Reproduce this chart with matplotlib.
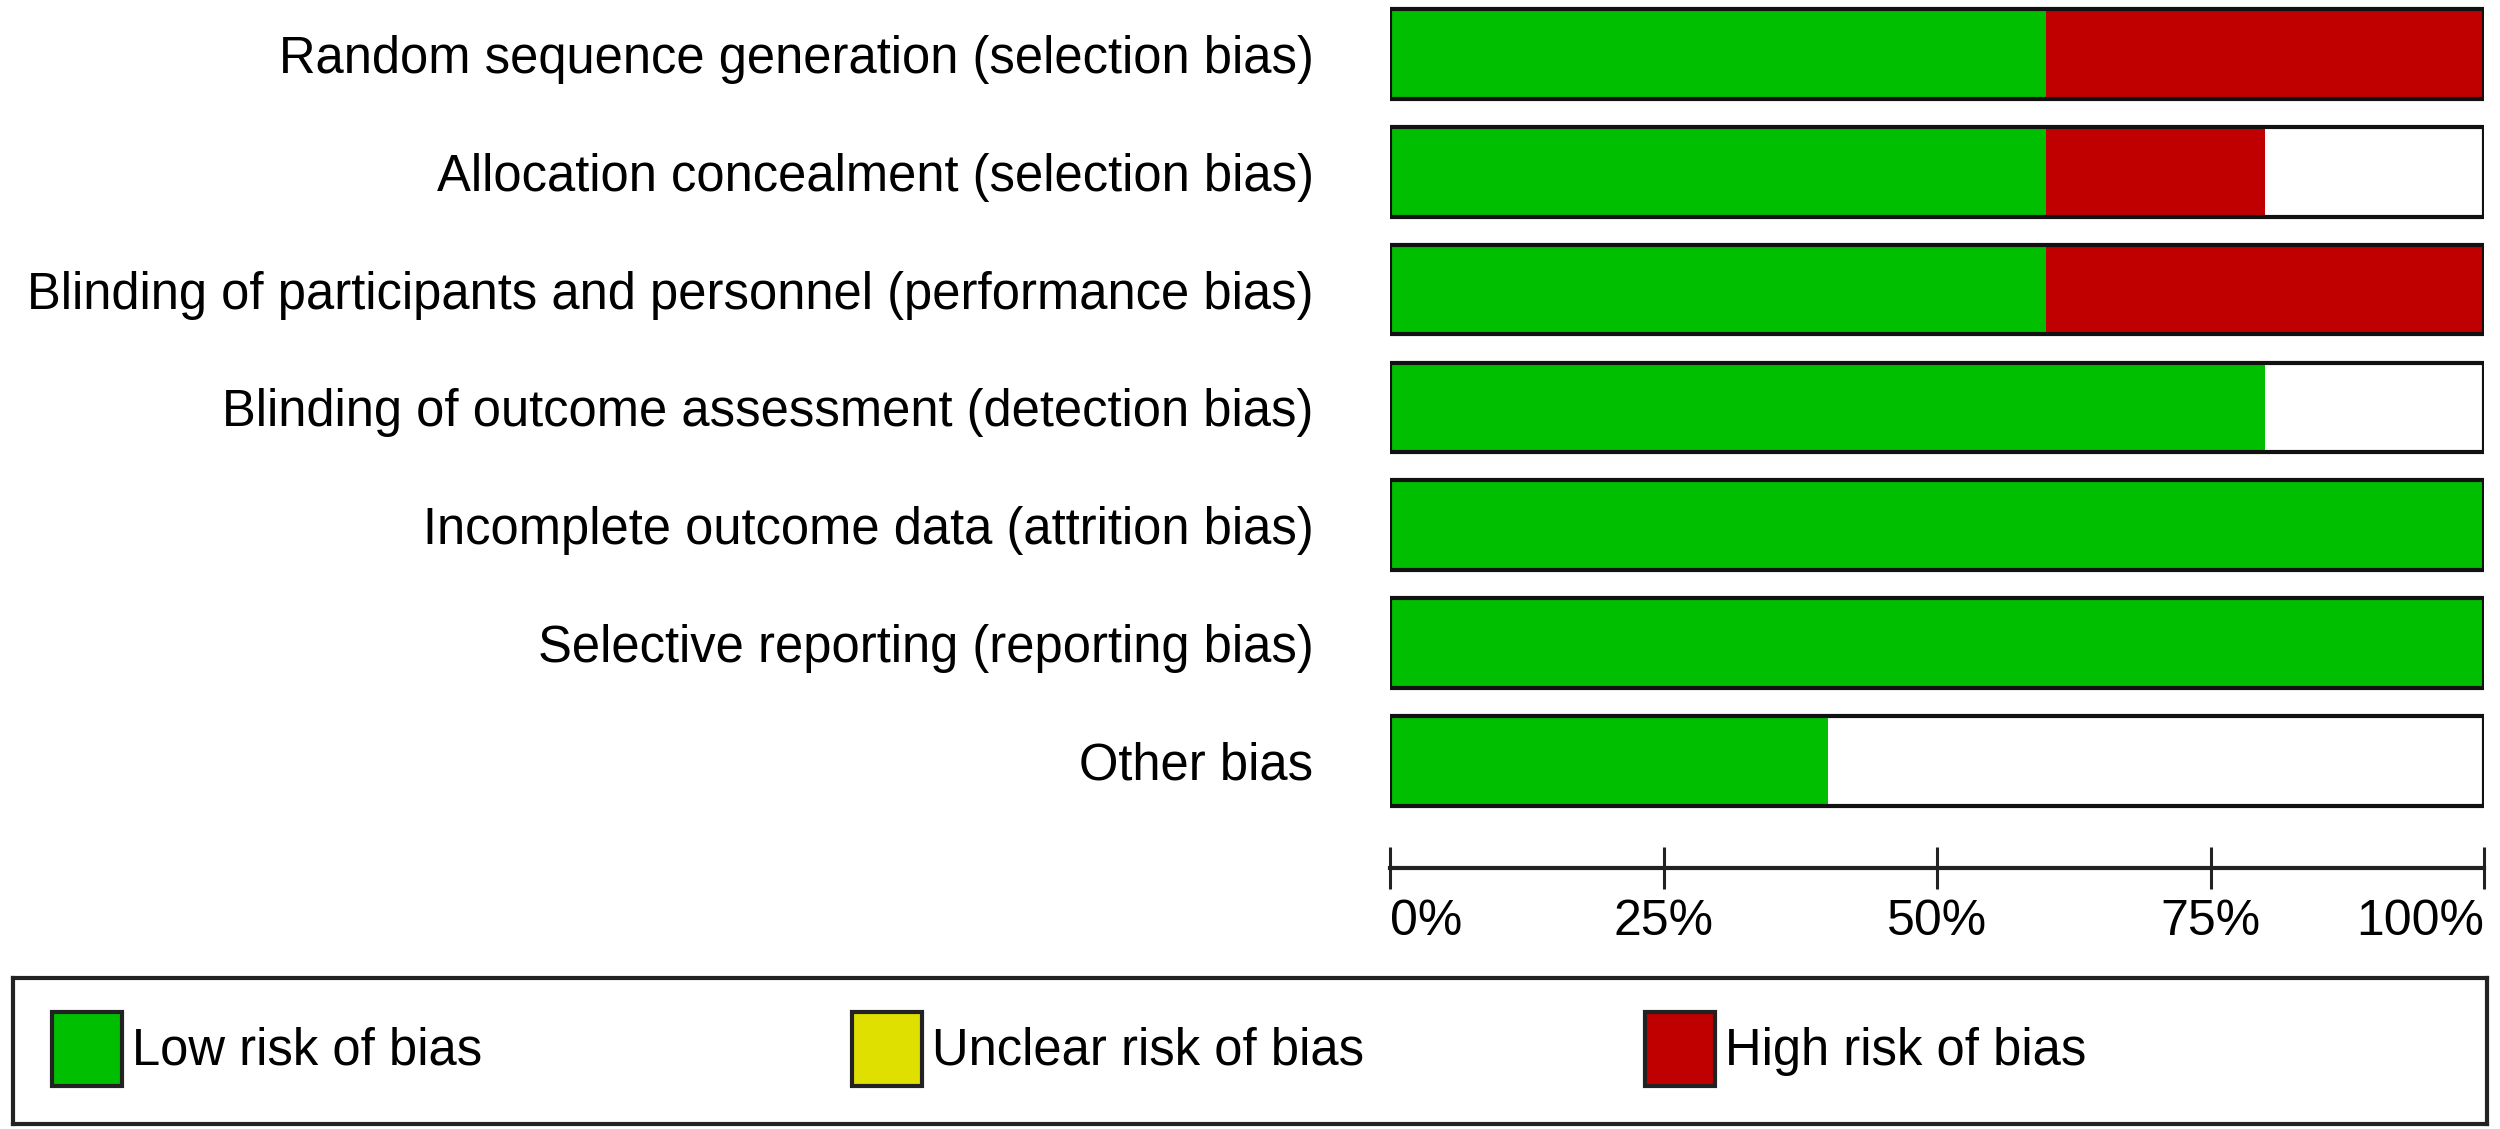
import matplotlib.pyplot as plt
from matplotlib.patches import Rectangle

# risk of bias domains, top to bottom
domains = [
    "Random sequence generation (selection bias)",
    "Allocation concealment (selection bias)",
    "Blinding of participants and personnel (performance bias)",
    "Blinding of outcome assessment (detection bias)",
    "Incomplete outcome data (attrition bias)",
    "Selective reporting (reporting bias)",
    "Other bias",
]
low_risk = [60, 60, 60, 80, 100, 100, 40]
unclear_risk = [0, 0, 0, 0, 0, 0, 0]
high_risk = [40, 20, 40, 0, 0, 0, 0]

tick_vals = [0, 25, 50, 75, 100]
tick_labels = ["0%", "25%", "50%", "75%", "100%"]

legend_names = ["Low risk of bias", "Unclear risk of bias", "High risk of bias"]

GREEN = "#00bf00"
YELLOW = "#e0e000"
RED = "#c00000"

plt.rcParams['font.family'] = ['Liberation Sans', 'DejaVu Sans']

W, H = 2500, 1129
fig = plt.figure(figsize=(W / 100, H / 100), dpi=100)

# main bar axes (pixel layout from the picture)
x0, x1 = 1390, 2484
y_top, y_axis = 0, 868
ax = fig.add_axes([x0 / W, 1 - y_axis / H, (x1 - x0) / W, (y_axis - y_top) / H])

rows = list(range(len(domains)))
bh = 0.76
# white background, coloured segments, outline on top
ax.barh(rows, [100] * len(rows), height=bh, color="white", edgecolor="none", zorder=1)
ax.barh(rows, low_risk, height=bh, color=GREEN, edgecolor="none", zorder=2)
left2 = low_risk
ax.barh(rows, unclear_risk, left=left2, height=bh, color=YELLOW, edgecolor="none", zorder=2)
left3 = [a + b for a, b in zip(low_risk, unclear_risk)]
ax.barh(rows, high_risk, left=left3, height=bh, color=RED, edgecolor="none", zorder=2)
ax.barh(rows, [100] * len(rows), height=bh, color="none", edgecolor="#111111", linewidth=3, zorder=3)

ax.set_xlim(0, 100)
ax.set_ylim(6.91, -0.458)
ax.set_yticks(rows)
ax.set_yticklabels(domains, fontsize=36.5)
ax.tick_params(axis='y', length=0, pad=55)

ax.set_xticks(tick_vals)
ax.set_xticklabels(tick_labels, fontsize=36)
ax.tick_params(axis='x', direction='inout', length=30, width=2.2, pad=7, colors="#222222")
for lab in ax.get_xticklabels():
    lab.set_color("black")
xl = ax.get_xticklabels()
xl[0].set_ha("left")
xl[-1].set_ha("right")

for s in ["top", "right", "left"]:
    ax.spines[s].set_visible(False)
ax.spines["bottom"].set_linewidth(3)
ax.spines["bottom"].set_color("#222222")
ax.patch.set_alpha(0)

# legend box
lx0, lx1, ly0, ly1 = 13, 2487, 978, 1124
lax = fig.add_axes([lx0 / W, 1 - ly1 / H, (lx1 - lx0) / W, (ly1 - ly0) / H])
lax.set_xlim(lx0, lx1)
lax.set_ylim(ly1, ly0)
lax.set_xticks([])
lax.set_yticks([])
for s in lax.spines.values():
    s.set_linewidth(3)
    s.set_color("#222222")

sq_x = [52, 852, 1645]
for xs, name, col in zip(sq_x, legend_names, [GREEN, YELLOW, RED]):
    lax.add_patch(Rectangle((xs, 1012), 70, 74, facecolor=col, edgecolor="#222222", linewidth=3))
    lax.text(xs + 80, 1051, name, fontsize=36.5, va="center", ha="left")

fig.savefig("out.png", dpi=100, facecolor="white")
